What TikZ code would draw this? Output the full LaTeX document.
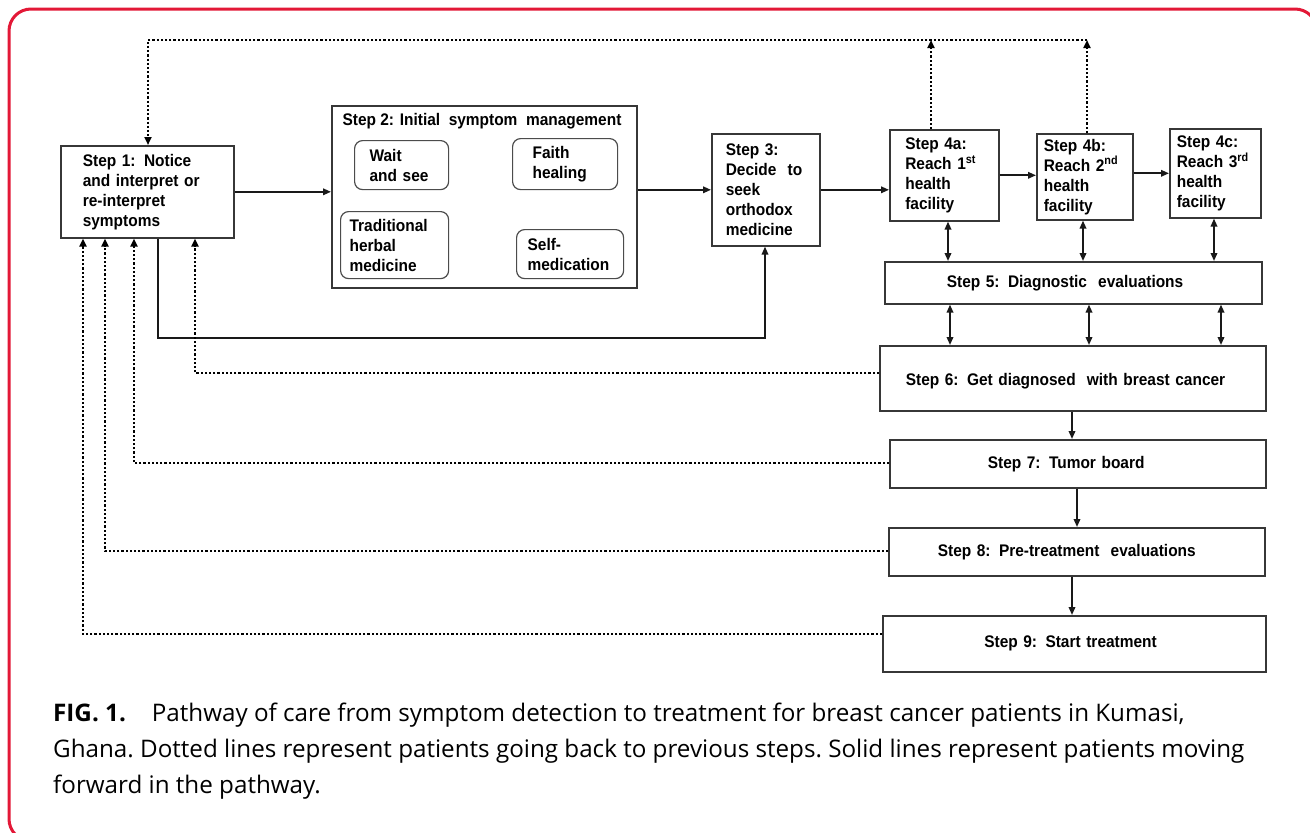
\documentclass[tikz,border=0pt]{standalone}
\usepackage{fontspec}
\setmainfont{Liberation Sans}[FakeStretch=0.92]
\newfontfamily\capfont{Open Sans}
\usetikzlibrary{arrows.meta}
\definecolor{bordred}{RGB}{227,24,55}
\definecolor{boxline}{RGB}{55,55,55}
\begin{document}
\begin{tikzpicture}[x=1pt,y=-1pt,
  box/.style={draw=boxline, line width=1.6pt, anchor=north west, inner sep=0pt, align=left,
    font=\bfseries\fontsize{16.8}{20}\selectfont},
  rbox/.style={box, line width=1.2pt, draw=black!70, rounded corners=8pt},
  lbl/.style={inner sep=0pt, font=\bfseries\fontsize{16.8}{20}\selectfont},
  fwd/.style={line width=1.8pt, draw=black!90, -{Triangle[length=8pt,width=6.5pt]}},
  both/.style={line width=1.8pt, draw=black!90, {Triangle[length=8pt,width=6.5pt]}-{Triangle[length=8pt,width=6.5pt]}},
  back/.style={line width=2.8pt, draw=black, dash pattern=on 2.3pt off 1.9pt, -{Triangle[length=8pt,width=7pt]}},
]
\useasboundingbox (0,0) rectangle (1310,833);
\clip (0,0) rectangle (1310,833);
\fill[white] (0,0) rectangle (1310,833);
\draw[draw=bordred, line width=3pt, rounded corners=22pt] (9,9) rectangle (1317,841);

% step boxes
\node[box, minimum width=173pt, minimum height=92pt, text width=129pt] (s1) at (60,145)
  {Step 1: Notice\\and interpret or\\re-interpret\\symptoms};
\node[box, minimum width=305pt, minimum height=182pt] (s2) at (331,105) {};
\node[lbl] (t2) at (482,121) {Step 2: Initial\ \ symptom\ \ management};
\node[rbox, minimum width=94pt, minimum height=49pt, text width=64pt] (wait) at (354,140) {Wait\\and see};
\node[rbox, minimum width=105pt, minimum height=51pt, text width=65pt] (faith) at (512,138) {Faith\\healing};
\node[rbox, minimum width=108pt, minimum height=67pt, text width=90pt] (trad) at (340,211) {Traditional\\herbal\\medicine};
\node[rbox, minimum width=107pt, minimum height=49pt, text width=85pt] (self) at (516,229) {Self-\\medication};
\node[box, minimum width=108pt, minimum height=112pt, text width=80pt] (s3) at (711,133)
  {Step 3:\\Decide\ \ to\\seek\\orthodox\\medicine};
\node[box, minimum width=109pt, minimum height=91pt, text width=78pt] (s4a) at (889,129)
  {Step 4a:\\Reach 1\textsuperscript{st}\\health\\facility};
\node[box, minimum width=96pt, minimum height=86pt, text width=82pt] (s4b) at (1036,133)
  {Step 4b:\\Reach 2\textsuperscript{nd}\\health\\facility};
\node[box, minimum width=91pt, minimum height=89pt, text width=77pt] (s4c) at (1169,128)
  {Step 4c:\\Reach 3\textsuperscript{rd}\\health\\facility};
\node[box, minimum width=377pt, minimum height=42pt, text width=253pt] (s5) at (884,261)
  {Step 5: Diagnostic\ \ evaluations};
\node[box, minimum width=386pt, minimum height=65pt, text width=334pt] (s6) at (879,345)
  {\rule{0pt}{18pt}Step 6: Get diagnosed\ \ with breast cancer};
\node[box, minimum width=376pt, minimum height=48pt, text width=180pt] (s7) at (889,439)
  {Step 7: Tumor board};
\node[box, minimum width=376pt, minimum height=48pt, text width=278pt] (s8) at (888,527)
  {Step 8: Pre-treatment\ \ evaluations};
\node[box, minimum width=383pt, minimum height=56pt, text width=180pt] (s9) at (882,615)
  {Step 9: Start treatment};

% helper coordinates
\coordinate (cA) at (948,0); \coordinate (cB) at (1083,0); \coordinate (cC) at (1214,0);
\coordinate (dA) at (950,0); \coordinate (dB) at (1089,0); \coordinate (dC) at (1221,0);
\coordinate (e1) at (1072,0); \coordinate (e2) at (1077,0);
\coordinate (cT1) at (148,40); \coordinate (cT4a) at (931,40); \coordinate (cT4b) at (1087,40);
\coordinate (b6) at (195,373); \coordinate (b7) at (134,463);
\coordinate (b8) at (105,551); \coordinate (b9) at (83,634);
\coordinate (sx) at (158,338); \coordinate (sy) at (765,338);

% forward arrows
\draw[fwd] (s1.east) -- (s1.east -| s2.west);
\draw[fwd] (s3.west -| s2.east) -- (s3.west);
\draw[fwd] (s3.east) -- (s3.east -| s4a.west);
\draw[fwd] (s4a.east) -- (s4a.east -| s4b.west);
\draw[fwd] (s4c.west -| s4b.east) -- (s4c.west);
\draw[fwd] (s1.south -| sx) -- (sx) -- (sy) -- (s3.south -| sy);
\draw[both] (s4a.south -| cA) -- (s5.north -| cA);
\draw[both] (s4b.south -| cB) -- (s5.north -| cB);
\draw[both] (s4c.south -| cC) -- (s5.north -| cC);
\draw[both] (s5.south -| dA) -- (s6.north -| dA);
\draw[both] (s5.south -| dB) -- (s6.north -| dB);
\draw[both] (s5.south -| dC) -- (s6.north -| dC);
\draw[fwd] (s6.south -| e1) -- (s7.north -| e1);
\draw[fwd] (s7.south -| e2) -- (s8.north -| e2);
\draw[fwd] (s8.south -| e1) -- (s9.north -| e1);

% backward (dotted) arrows
\draw[back] (s4a.north -| cT4a) -- (cT4a);
\draw[back] (s4b.north -| cT4b) -- (cT4b);
\draw[back] (cT4b) -- (cT1) -- (s1.north -| cT1);
\draw[back] (s6.west |- b6) -- (b6) -- (s1.south -| b6);
\draw[back] (s7.west |- b7) -- (b7) -- (s1.south -| b7);
\draw[back] (s8.west |- b8) -- (b8) -- (s1.south -| b8);
\draw[back] (s9.west |- b9) -- (b9) -- (s1.south -| b9);

% caption
\node[anchor=north west, align=left, inner sep=0pt, font=\capfont\fontsize{24.2}{36}\selectfont\frenchspacing] (cap) at (53,703)
  {\textbf{FIG. 1.}\hspace{26pt}Pathway of care from symptom detection to treatment for breast cancer patients in Kumasi,\\
   Ghana. Dotted lines represent patients going back to previous steps. Solid lines represent patients moving\\
   forward in the pathway.};
\end{tikzpicture}
\end{document}
